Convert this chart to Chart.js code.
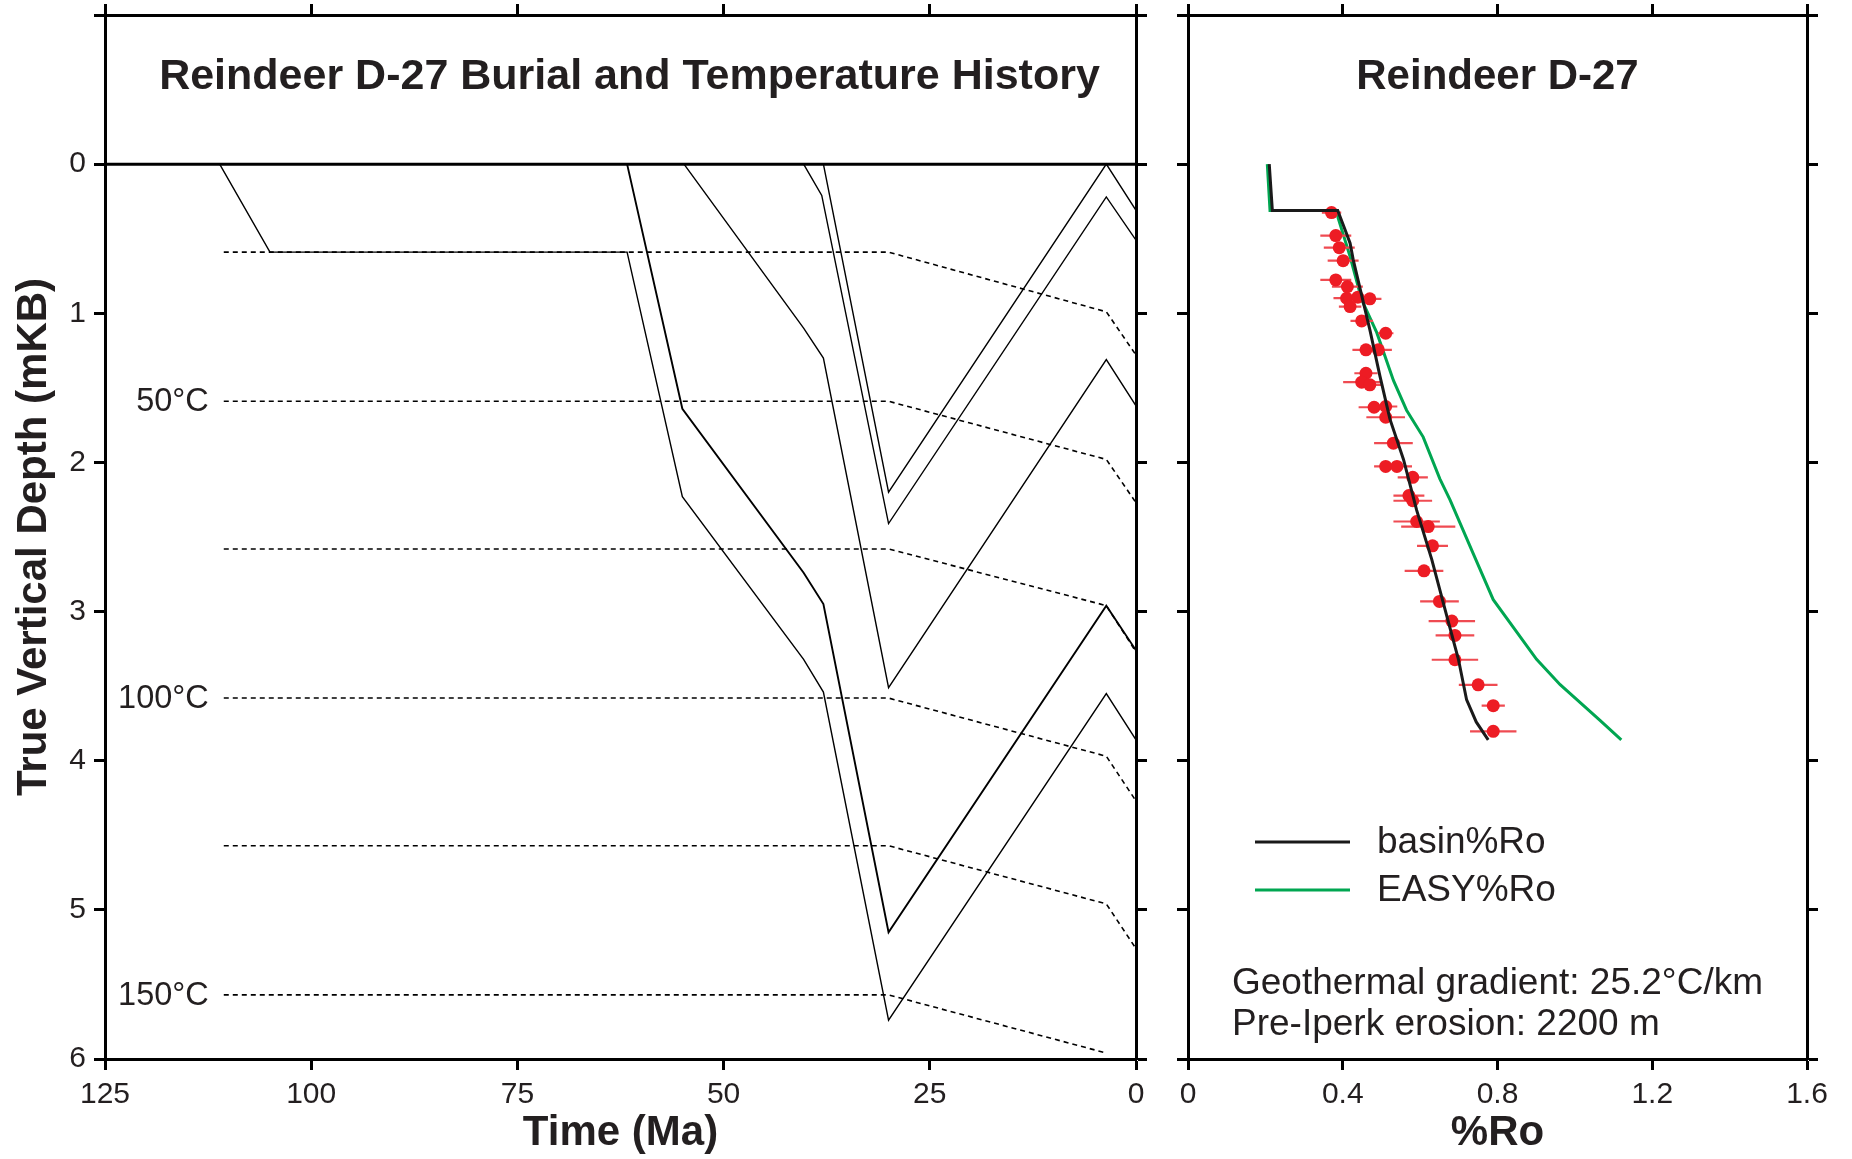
<!DOCTYPE html>
<html>
<head>
<meta charset="utf-8">
<title>Reindeer D-27</title>
<script src="https://cdn.jsdelivr.net/npm/chart.js@4.4.1/dist/chart.umd.min.js"></script>
<style>
	html, body { margin: 0; padding: 0; background: #fff; }
	#wrap { position: relative; width: 1852px; height: 1159px; }
	canvas { position: absolute; top: 0; }
	#burial { left: 0; }
	#ro { left: 1160px; }
</style>
</head>
<body>
<div id="wrap">
	<canvas id="burial" width="1160" height="1159"></canvas>
	<canvas id="ro" width="692" height="1159"></canvas>
</div>
<script>
//
// Axes
//
const timeTicks = [ 125, 100, 75, 50, 25, 0 ];
const timeLabels = [ "125", "100", "75", "50", "25", "0" ];
const depthTicks = [ -1, 0, 1, 2, 3, 4, 5, 6 ];
const depthLabels = [ "", "0", "1", "2", "3", "4", "5", "6" ];
const roTicks = [ 0, 0.4, 0.8, 1.2, 1.6 ];
const roLabels = [ "0", "0.4", "0.8", "1.2", "1.6" ];

//
// Burial history, [age (Ma), depth (km)] for each horizon
//
const surface = [ [ 125, 0 ], [ 0, 0 ] ];
const horizonA = [ [ 111.1, 0 ], [ 105, 0.59 ], [ 61.7, 0.59 ], [ 55, 2.23 ], [ 40.3, 3.32 ], [ 37.9, 3.54 ], [ 30, 5.74 ], [ 3.6, 3.55 ], [ 0, 3.86 ] ];
const horizonB = [ [ 61.7, 0 ], [ 55, 1.64 ], [ 40.3, 2.74 ], [ 37.9, 2.95 ], [ 30, 5.15 ], [ 3.6, 2.96 ], [ 0, 3.26 ] ];
const horizonC = [ [ 54.8, 0 ], [ 40.3, 1.10 ], [ 37.9, 1.30 ], [ 30, 3.51 ], [ 3.6, 1.31 ], [ 0, 1.62 ] ];
const horizonD = [ [ 37.9, 0 ], [ 30, 2.20 ], [ 3.6, 0 ], [ 0, 0.31 ] ];
const horizonE = [ [ 40.3, 0 ], [ 38.1, 0.21 ], [ 30, 2.41 ], [ 3.6, 0.22 ], [ 0, 0.51 ] ];

// isotherms every 25 °C
const isothermAges = [ 110.6, 30, 3.6, 0 ];
const isothermDepths = [
	[ 0.59, 0.59, 0.99, 1.28 ],
	[ 1.59, 1.59, 1.98, 2.27 ],
	[ 2.58, 2.58, 2.96, 3.27 ],
	[ 3.58, 3.58, 3.97, 4.27 ],
	[ 4.57, 4.57, 4.96, 5.26 ],
	[ 5.57, 5.57, 5.96 ]
];
const isothermLabels = [ "", "50°C", "", "100°C", "", "150°C" ];

//
// Vitrinite reflectance
//
const sampleRo = [ 0.371, 0.382, 0.391, 0.401, 0.382, 0.412, 0.410, 0.439, 0.470, 0.419, 0.449, 0.511, 0.460, 0.492, 0.460, 0.449, 0.470, 0.481, 0.511, 0.511, 0.531, 0.511, 0.540, 0.581, 0.571, 0.581, 0.591, 0.621, 0.632, 0.610, 0.650, 0.682, 0.690, 0.690, 0.750, 0.789, 0.789 ];
const sampleDepth = [ 0.325, 0.479, 0.560, 0.647, 0.776, 0.821, 0.899, 0.892, 0.903, 0.955, 1.051, 1.134, 1.245, 1.245, 1.402, 1.462, 1.480, 1.630, 1.625, 1.697, 1.871, 2.027, 2.027, 2.100, 2.222, 2.257, 2.396, 2.430, 2.559, 2.727, 2.932, 3.064, 3.160, 3.323, 3.491, 3.631, 3.803 ];
const sampleErr = [ 0.025, 0.040, 0.040, 0.040, 0.040, 0.040, 0.034, 0.030, 0.030, 0.029, 0.029, 0.020, 0.035, 0.035, 0.030, 0.048, 0.030, 0.040, 0.030, 0.050, 0.050, 0.030, 0.039, 0.039, 0.040, 0.050, 0.060, 0.070, 0.040, 0.050, 0.050, 0.060, 0.050, 0.060, 0.050, 0.030, 0.060 ];

const basinRo = [ 0.210, 0.218, 0.387, 0.406, 0.419, 0.427, 0.470, 0.496, 0.522, 0.557, 0.591, 0.630, 0.669, 0.699, 0.720, 0.745, 0.776 ];
const basinDepth = [ 0, 0.31, 0.31, 0.44, 0.53, 0.64, 1.11, 1.42, 1.71, 1.98, 2.32, 2.65, 3.03, 3.32, 3.59, 3.74, 3.86 ];
const easyRo = [ 0.205, 0.212, 0.384, 0.388, 0.419, 0.449, 0.488, 0.531, 0.565, 0.608, 0.651, 0.677, 0.737, 0.789, 0.901, 0.962, 1.065, 1.120 ];
const easyDepth = [ 0, 0.31, 0.31, 0.36, 0.62, 0.91, 1.13, 1.45, 1.65, 1.83, 2.11, 2.25, 2.61, 2.92, 3.32, 3.49, 3.73, 3.86 ];

const ink = "#231f20";
const sans = "'Liberation Sans', Arial, Helvetica, sans-serif";

//
// Petite aide pour les axes du cadre (ticks vers l'extérieur)
//
function frameAxis( position, values, labels, size, reverse, title, titlePad )
{
	return {
		type: "linear",
		position: position,
		reverse: reverse,
		min: Math.min( ...values ),
		max: Math.max( ...values ),
		afterBuildTicks: ( s ) => { s.ticks = values.map( ( v ) => ( { value: v } ) ); },
		afterFit: ( s ) =>
		{
			if ( s.isHorizontal() ) s.height = size;
			else
			{
				s.width = size;
				s.paddingTop = 0;
				s.paddingBottom = 0;
			}
		},
		grid: { drawOnChartArea: false, tickLength: 11, tickWidth: 3, tickColor: "#000" },
		border: { display: true, width: 3, color: "#000" },
		ticks: {
			display: !!labels,
			autoSkip: false,
			maxRotation: 0,
			padding: position === "bottom" ? 7 : 8,
			color: ink,
			font: { family: sans, size: 30 },
			callback: ( v, i ) => ( labels ? labels[ i ] : "" )
		},
		title: {
			display: !!title,
			text: title || "",
			color: ink,
			font: { family: sans, size: 42, weight: "bold" },
			padding: titlePad || 0
		}
	};
}

const xy = ( pairs ) => pairs.map( ( [ x, y ] ) => ( { x: x, y: y } ) );
const zip = ( xs, ys ) => xs.map( ( x, i ) => ( { x: x, y: ys[ i ] } ) );

function line( data, width, color, dash )
{
	return { data: data, showLine: true, borderColor: color, borderWidth: width, borderDash: dash || [], pointRadius: 0, fill: false };
}

//
// Graphique de gauche : enfouissement et température
//
const burialSets = [ line( xy( surface ), 3, "#000" ) ];
[ horizonA, horizonB, horizonC, horizonD, horizonE ].forEach( ( h, i ) =>
{
	burialSets.push( line( xy( h ), i === 1 ? 1.9 : 1.4, "#000" ) );
} );
isothermDepths.forEach( ( d ) =>
{
	burialSets.push( line( zip( isothermAges.slice( 0, d.length ), d ), 1.6, "#000", [ 5, 4 ] ) );
} );

const burialText = {
	id: "burialText",
	afterDraw( chart )
	{
		const { ctx, chartArea, scales } = chart;
		ctx.save();
		ctx.fillStyle = ink;
		ctx.font = "bold 43px " + sans;
		ctx.textAlign = "center";
		ctx.textBaseline = "middle";
		ctx.fillText( "Reindeer D-27 Burial and Temperature History", ( chartArea.left + chartArea.right ) / 2 + 9, scales.y.getPixelForValue( -0.58 ) );
		ctx.font = "32.5px " + sans;
		ctx.textAlign = "right";
		isothermLabels.forEach( ( t, i ) =>
		{
			if ( !t ) return;
			ctx.fillText( t, scales.x.getPixelForValue( isothermAges[ 0 ] ) - 15, scales.y.getPixelForValue( isothermDepths[ i ][ 0 ] ) + 1 );
		} );
		ctx.restore();
	}
};

new Chart( document.getElementById( "burial" ),
	{
		type: "scatter",
		data: { datasets: burialSets },
		options: {
			responsive: false,
			animation: false,
			devicePixelRatio: 1,
			layout: { padding: 0 },
			plugins: { legend: { display: false }, tooltip: { enabled: false } },
			scales: {
				x: frameAxis( "bottom", timeTicks, timeLabels, 100, true, "Time (Ma)", { top: 0, bottom: 0 } ),
				x2: frameAxis( "top", timeTicks, null, 15, true ),
				y: frameAxis( "left", depthTicks, depthLabels, 105, true, "True Vertical Depth (mKB)", { top: 9, bottom: 0 } ),
				y2: frameAxis( "right", depthTicks, null, 24, true )
			}
		},
		plugins: [ burialText ]
	} );

//
// Graphique de droite : réflectance de la vitrinite
//
const errorBars = [];
sampleRo.forEach( ( r, i ) =>
{
	errorBars.push( { x: r - sampleErr[ i ], y: sampleDepth[ i ] } );
	errorBars.push( { x: r + sampleErr[ i ], y: sampleDepth[ i ] } );
	errorBars.push( { x: null, y: null } );
} );

const basinColor = "#1a1a1a";
const easyColor = "#00a651";

const roText = {
	id: "roText",
	afterDraw( chart )
	{
		const { ctx, chartArea, scales } = chart;
		const L = chartArea.left;
		ctx.save();
		ctx.fillStyle = ink;
		ctx.font = "bold 42px " + sans;
		ctx.textAlign = "center";
		ctx.textBaseline = "middle";
		ctx.fillText( "Reindeer D-27", ( chartArea.left + chartArea.right ) / 2, scales.y.getPixelForValue( -0.58 ) );

		// légende
		const rows = [ [ "basin%Ro", basinColor, 842 ], [ "EASY%Ro", easyColor, 890 ] ];
		ctx.font = "37px " + sans;
		ctx.textAlign = "left";
		rows.forEach( ( [ label, color, y ] ) =>
		{
			ctx.strokeStyle = color;
			ctx.lineWidth = 3;
			ctx.beginPath();
			ctx.moveTo( L + 67, y );
			ctx.lineTo( L + 162, y );
			ctx.stroke();
			ctx.fillText( label, L + 189, y + 1 );
		} );

		ctx.fillText( "Geothermal gradient: 25.2°C/km", L + 44, 984 );
		ctx.fillText( "Pre-Iperk erosion: 2200 m", L + 44, 1025 );
		ctx.restore();
	}
};

new Chart( document.getElementById( "ro" ),
	{
		type: "scatter",
		data: {
			datasets: [
				line( zip( basinRo, basinDepth ), 3, basinColor ),
				{ data: zip( sampleRo, sampleDepth ), showLine: false, pointRadius: 6.5, pointBackgroundColor: "#ed1c24", pointBorderWidth: 0 },
				line( errorBars, 2.2, "#ef4b52" ),
				line( zip( easyRo, easyDepth ), 3, easyColor )
			]
		},
		options: {
			responsive: false,
			animation: false,
			devicePixelRatio: 1,
			layout: { padding: 0 },
			plugins: { legend: { display: false }, tooltip: { enabled: false } },
			scales: {
				x: frameAxis( "bottom", roTicks, roLabels, 100, false, "%Ro", { top: 0, bottom: 0 } ),
				x2: frameAxis( "top", roTicks, null, 15, false ),
				y: frameAxis( "left", depthTicks, null, 28, true ),
				y2: frameAxis( "right", depthTicks, null, 45, true )
			}
		},
		plugins: [ roText ]
	} );
</script>
</body>
</html>
